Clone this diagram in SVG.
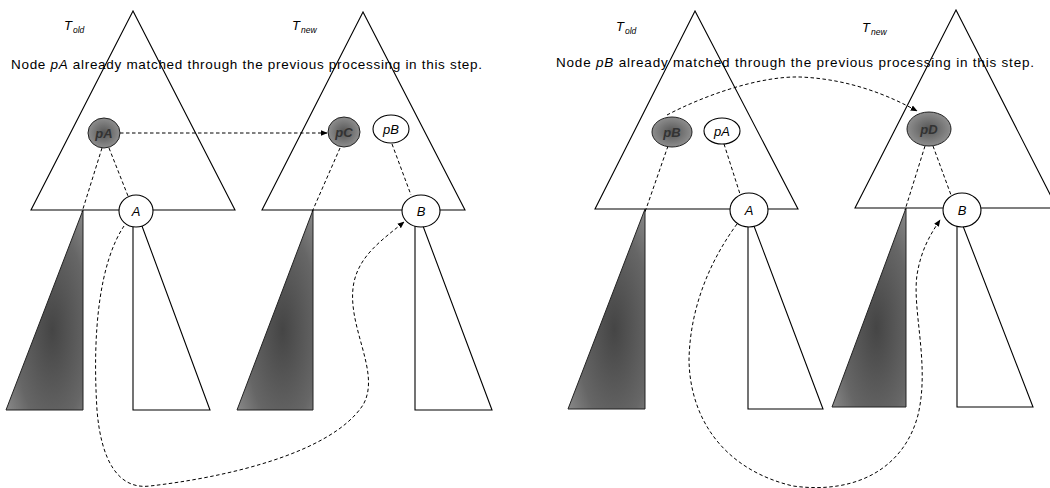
<svg xmlns="http://www.w3.org/2000/svg" width="1050" height="488" viewBox="0 0 1050 488">
<defs>
<style>
.tri{fill:none;stroke:#000;stroke-width:1.1}
.sub{fill:#fff;stroke:#000;stroke-width:1.1}
.dk{fill:url(#gtri);stroke:#222;stroke-width:1}
.nd{fill:#fff;stroke:#000;stroke-width:1.1}
.nddk{fill:url(#gnode);stroke:#222;stroke-width:1}
.dash{fill:none;stroke:#000;stroke-width:1;stroke-dasharray:3.5,2.5}
.lbl{font-family:"Liberation Sans",Arial,sans-serif;font-style:italic;font-size:13px;fill:#000;text-anchor:middle}
.lbldk{font-family:"Liberation Sans",Arial,sans-serif;font-style:italic;font-weight:bold;font-size:13px;fill:#333;text-anchor:middle}
.cap{font-family:"Liberation Sans",Arial,sans-serif;font-size:13.5px;fill:#000}
.T{font-family:"Liberation Sans",Arial,sans-serif;font-style:italic;font-size:13px;fill:#000}
.s{font-size:8.5px}
</style>
<radialGradient id="gtri" cx="0.6" cy="0.6" r="0.8">
<stop offset="0" stop-color="#454545"/>
<stop offset="0.6" stop-color="#666"/>
<stop offset="1" stop-color="#959595"/>
</radialGradient>
<radialGradient id="gnode" cx="0.5" cy="0.5" r="0.6">
<stop offset="0" stop-color="#555"/>
<stop offset="1" stop-color="#999"/>
</radialGradient>
<marker id="ah" viewBox="0 0 10 10" refX="9" refY="5" markerWidth="7" markerHeight="7" orient="auto" markerUnits="userSpaceOnUse">
<path d="M0,1 L10,5 L0,9 z" fill="#000"/>
</marker>
</defs>

<g id="left-panel">
<g id="T_old_left">
<polygon class="tri" points="133,11 31,210 235,210"/>
<text class="T" x="64" y="30">T<tspan class="s" dx="1" dy="3">old</tspan></text>
</g>
<g id="T_new_left">
<polygon class="tri" points="363,12 262,210 465,210"/>
<text class="T" x="292" y="30">T<tspan class="s" dx="1" dy="3">new</tspan></text>
</g>
<text class="cap" x="11" y="69" textLength="471" lengthAdjust="spacing">Node <tspan font-style="italic">pA</tspan> already matched through the previous processing in this step.</text>
<g id="subtree_old_dark_left"><polygon class="dk" points="83,210 6,410 83,410"/></g>
<g id="subtree_A"><polygon class="sub" points="133,226 133,410 210,410 142,226"/></g>
<g id="subtree_new_dark_left"><polygon class="dk" points="313,210 237,410 313,410"/></g>
<g id="subtree_B"><polygon class="sub" points="415,226 415,410 492,410 423,226"/></g>
</g>

<g id="right-panel">
<g id="T_old_right">
<polygon class="tri" points="695,11 595,209 798,209"/>
<text class="T" x="616" y="31">T<tspan class="s" dx="1" dy="3">old</tspan></text>
</g>
<g id="T_new_right">
<polygon class="tri" points="956,10 855,208 1057,208"/>
<text class="T" x="862" y="32">T<tspan class="s" dx="1" dy="3">new</tspan></text>
</g>
<text class="cap" x="556" y="67" textLength="478" lengthAdjust="spacing">Node <tspan font-style="italic">pB</tspan> already matched through the previous processing in this step.</text>
<g id="subtree_old_dark_right"><polygon class="dk" points="645,209 568,409 645,409"/></g>
<g id="subtree_A2"><polygon class="sub" points="748,226 748,409 823,409 754,226"/></g>
<g id="subtree_new_dark_right"><polygon class="dk" points="906,208 832,407 906,407"/></g>
<g id="subtree_B2"><polygon class="sub" points="957,226 957,407 1033,407 963,226"/></g>
</g>

<g id="connectors">
<line class="dash" x1="102" y1="148" x2="82" y2="212"/>
<line class="dash" x1="109" y1="148" x2="128" y2="196"/>
<line class="dash" x1="120" y1="133" x2="327" y2="133" marker-end="url(#ah)"/>
<line class="dash" x1="340" y1="148" x2="312" y2="212"/>
<line class="dash" x1="392" y1="144" x2="411" y2="195"/>
<path class="dash" d="M124,226 C100,262 92,330 97,410 C101,460 118,490 150,486 C220,478 330,455 363,405 C382,372 345,325 354,282 C360,255 382,240 404,222" marker-end="url(#ah)"/>

<line class="dash" x1="668" y1="146" x2="645" y2="212"/>
<line class="dash" x1="724" y1="144" x2="740" y2="194"/>
<path class="dash" d="M667,115 C705,95 760,76 800,77 C850,79 890,96 917,111" marker-end="url(#ah)"/>
<line class="dash" x1="925" y1="146" x2="905" y2="210"/>
<line class="dash" x1="933" y1="146" x2="951" y2="195"/>
<path class="dash" d="M737,224 C712,258 690,305 689,360 C690,420 725,470 793,486 C860,495 905,465 918,415 C930,365 912,310 917,275 C921,250 930,235 940,220" marker-end="url(#ah)"/>
</g>

<g id="node-pA"><ellipse class="nddk" cx="104" cy="133" rx="16" ry="15"/><text class="lbldk" x="104" y="138">pA</text></g>
<g id="node-pC"><ellipse class="nddk" cx="344" cy="132" rx="16" ry="15"/><text class="lbldk" x="344" y="137">pC</text></g>
<g id="node-pB"><ellipse class="nd" cx="391" cy="129" rx="18" ry="14"/><text class="lbl" x="391" y="134">pB</text></g>
<g id="node-A"><ellipse class="nd" cx="136" cy="211" rx="17" ry="16"/><text class="lbl" x="136" y="216">A</text></g>
<g id="node-B"><ellipse class="nd" cx="421" cy="211" rx="19" ry="16"/><text class="lbl" x="421" y="216">B</text></g>

<g id="node-pB2"><ellipse class="nddk" cx="672" cy="132" rx="20" ry="15"/><text class="lbldk" x="672" y="137">pB</text></g>
<g id="node-pA2"><ellipse class="nd" cx="722" cy="131" rx="18" ry="13"/><text class="lbl" x="722" y="136">pA</text></g>
<g id="node-A2"><ellipse class="nd" cx="749" cy="210" rx="19" ry="17"/><text class="lbl" x="749" y="215">A</text></g>
<g id="node-pD"><ellipse class="nddk" cx="929" cy="129" rx="22" ry="17"/><text class="lbldk" x="929" y="134">pD</text></g>
<g id="node-B2"><ellipse class="nd" cx="962" cy="210" rx="19" ry="17"/><text class="lbl" x="962" y="215">B</text></g>
</svg>
